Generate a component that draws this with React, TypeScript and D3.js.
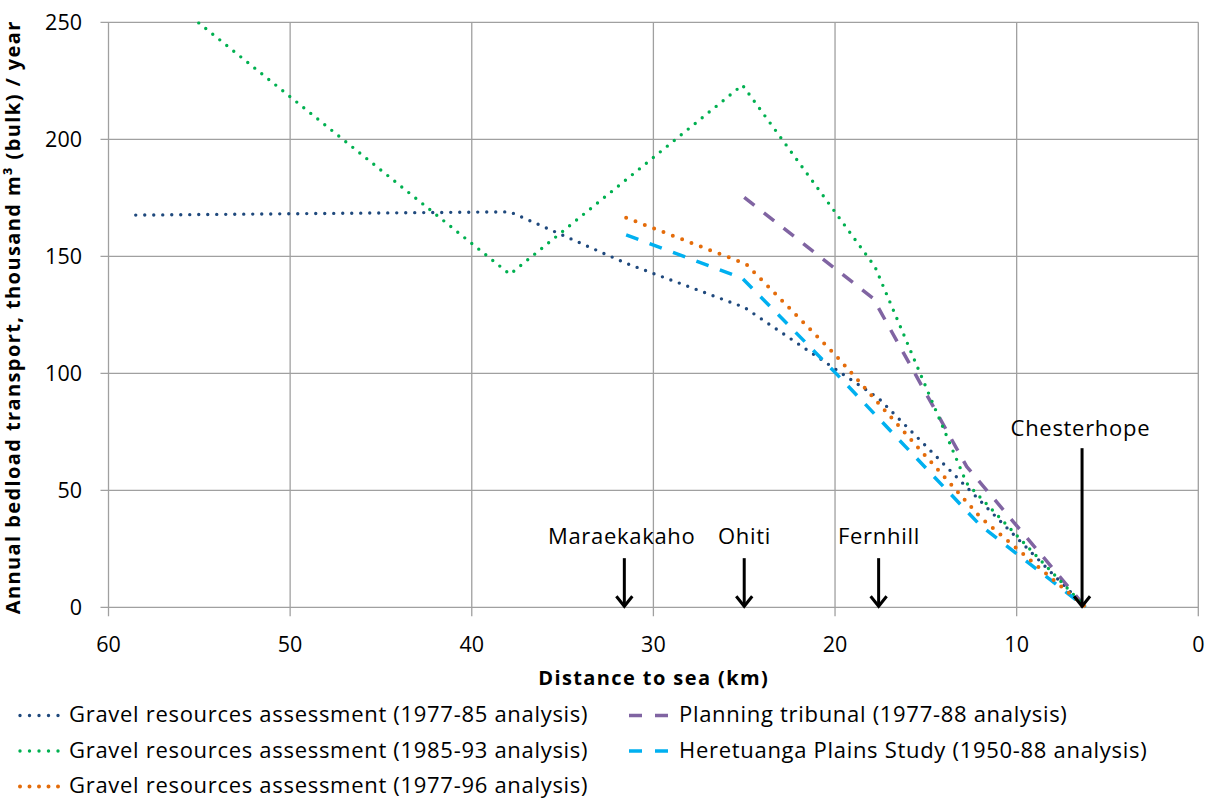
import React from "react";
import * as d3 from "d3";

// ---- data ----
const xTicks = [60, 50, 40, 30, 20, 10, 0];
const yTicks = [0, 50, 100, 150, 200, 250];

const seriesNames = [
  "Gravel resources assessment (1977-85 analysis)",
  "Planning tribunal (1977-88 analysis)",
  "Gravel resources assessment (1985-93 analysis)",
  "Heretuanga Plains Study (1950-88 analysis)",
  "Gravel resources assessment (1977-96 analysis)",
];

const navyKm = [58.5, 37.9, 31.5, 25.0, 17.6, 6.2];
const navyVal = [167.6, 169, 147, 128.2, 89.3, 0];

const purpleKm = [25.0, 17.9, 12.75, 6.2];
const purpleVal = [175.2, 132, 60.1, 0];

const greenKm = [58.5, 37.9, 25.1, 17.8, 12.75, 6.2];
const greenVal = [271.5, 142.3, 223.2, 145.5, 53, 0];

const cyanKm = [31.5, 25.1, 20, 12, 6.2];
const cyanVal = [159.2, 140.6, 100.4, 35, 0];

const orangeKm = [31.5, 24.9, 20, 12, 6.2];
const orangeVal = [166.5, 146.7, 108, 38.5, 0];

const placeNames = ["Maraekakaho", "Ohiti", "Fernhill", "Chesterhope"];
const placeKm = [31.6, 25.0, 17.6, 6.4];
const placeArrowTop = [21, 21, 21, 68];
const placeLabelVal = [27.1, 27.1, 27.1, 73];

// ---- styles ----
const FONT = "'Open Sans', 'Noto Sans', sans-serif";
const styles = [
  { color: "#1F497D", dash: "0 9", width: 3.4, legendDash: "0 9.5" },
  { color: "#8064A2", dash: "13 12", width: 3.5, legendDash: "13 13", butt: true },
  { color: "#00B050", dash: "0 9", width: 3.4, legendDash: "0 9.5" },
  { color: "#00B0F0", dash: "13 12", width: 3.5, legendDash: "13 13", butt: true },
  { color: "#E46C0A", dash: "0 10", width: 4, legendDash: "0 9.5" },
];

export default function App() {
  const W = 1211, H = 800;
  const x = d3.scaleLinear().domain([60, 0]).range([108.5, 1198.3]);
  const y = d3.scaleLinear().domain([0, 250]).range([607.3, 22.3]);

  const series = [
    { km: navyKm, val: navyVal },
    { km: purpleKm, val: purpleVal },
    { km: greenKm, val: greenVal },
    { km: cyanKm, val: cyanVal },
    { km: orangeKm, val: orangeVal },
  ];

  const line = d3
    .line<[number, number]>()
    .x((d) => x(d[0]))
    .y((d) => y(d[1]));

  const gridColor = "#A0A0A0";
  const FS = 21.5;
  const LFS = 22;
  const LS = 0.7;
  const TFS = 20;
  const TLS = 1.4;

  const legendPos = [
    { lx: 20, tx: 69, row: 0 },
    { lx: 629, tx: 679, row: 0 },
    { lx: 20, tx: 69, row: 1 },
    { lx: 629, tx: 679, row: 1 },
    { lx: 20, tx: 69, row: 2 },
  ];
  const rowBase = [722, 757.5, 793];

  return (
    <svg
      width={W}
      height={H}
      style={{ position: "absolute", left: 0, top: 0, background: "#fff" }}
      fontFamily={FONT}
    >
      <defs>
        <clipPath id="plotClip">
          <rect x={x(60)} y={y(250) - 1} width={x(0) - x(60)} height={y(0) - y(250) + 2} />
        </clipPath>
      </defs>

      {/* grid */}
      {yTicks.map((t) => (
        <line key={"gy" + t} x1={x(60) - 8} x2={x(0)} y1={y(t)} y2={y(t)} stroke={gridColor} strokeWidth={1.3} />
      ))}
      {xTicks.map((t) => (
        <line key={"gx" + t} x1={x(t)} x2={x(t)} y1={y(250)} y2={y(0) + 9} stroke={gridColor} strokeWidth={1.3} />
      ))}

      {/* y tick labels */}
      {yTicks.map((t) => (
        <text key={"ty" + t} x={82} y={y(t) + 7.6} textAnchor="end" fontSize={FS} fill="#000">
          {t}
        </text>
      ))}
      {/* x tick labels */}
      {xTicks.map((t) => (
        <text key={"tx" + t} x={x(t)} y={651.7} textAnchor="middle" fontSize={FS} fill="#000">
          {t}
        </text>
      ))}

      {/* axis titles */}
      <text x={653 + TLS / 2} y={685} textAnchor="middle" fontSize={TFS} letterSpacing={TLS} fontWeight="bold" fill="#000">
        Distance to sea (km)
      </text>
      <text
        transform={`translate(20,${318 - TLS / 2}) rotate(-90)`}
        textAnchor="middle"
        fontSize={TFS}
        letterSpacing={TLS}
        fontWeight="bold"
        fill="#000"
      >
        Annual bedload transport, thousand m³ (bulk) / year
      </text>

      {/* series */}
      <g clipPath="url(#plotClip)">
        {series.map((s, i) => {
          const pts: [number, number][] = s.km.map((k, j) => [k, s.val[j]]);
          const st = styles[i];
          return (
            <path
              key={"s" + i}
              d={line(pts) || ""}
              fill="none"
              stroke={st.color}
              strokeWidth={st.width}
              strokeDasharray={st.dash}
              strokeLinecap={st.butt ? "butt" : "round"}
              strokeLinejoin="round"
            />
          );
        })}
      </g>

      {/* place annotations */}
      {placeNames.map((n, i) => {
        const px = x(placeKm[i]);
        const top = y(placeArrowTop[i]);
        const bot = y(0) - 1;
        return (
          <g key={"p" + i}>
            <text
              x={px - (i === 0 ? 3 : i === 3 ? 2 : 0) + LS / 2}
              y={y(placeLabelVal[i])}
              textAnchor="middle"
              fontSize={LFS}
              letterSpacing={LS}
              fill="#000"
            >
              {n}
            </text>
            <line x1={px} x2={px} y1={top} y2={bot} stroke="#000" strokeWidth={3} />
            <polyline
              points={`${px - 8},${bot - 10} ${px},${bot} ${px + 8},${bot - 10}`}
              fill="none"
              stroke="#000"
              strokeWidth={3}
            />
          </g>
        );
      })}

      {/* legend */}
      {seriesNames.map((n, i) => {
        const p = legendPos[i];
        const st = styles[i];
        const base = rowBase[p.row];
        return (
          <g key={"l" + i}>
            <line
              x1={p.lx}
              x2={p.lx + 39}
              y1={base - 6.5}
              y2={base - 6.5}
              stroke={st.color}
              strokeWidth={st.width}
              strokeDasharray={st.legendDash}
              strokeLinecap={st.butt ? "butt" : "round"}
            />
            <text x={p.tx} y={base} fontSize={LFS} letterSpacing={LS} fill="#000">
              {n}
            </text>
          </g>
        );
      })}
    </svg>
  );
}
